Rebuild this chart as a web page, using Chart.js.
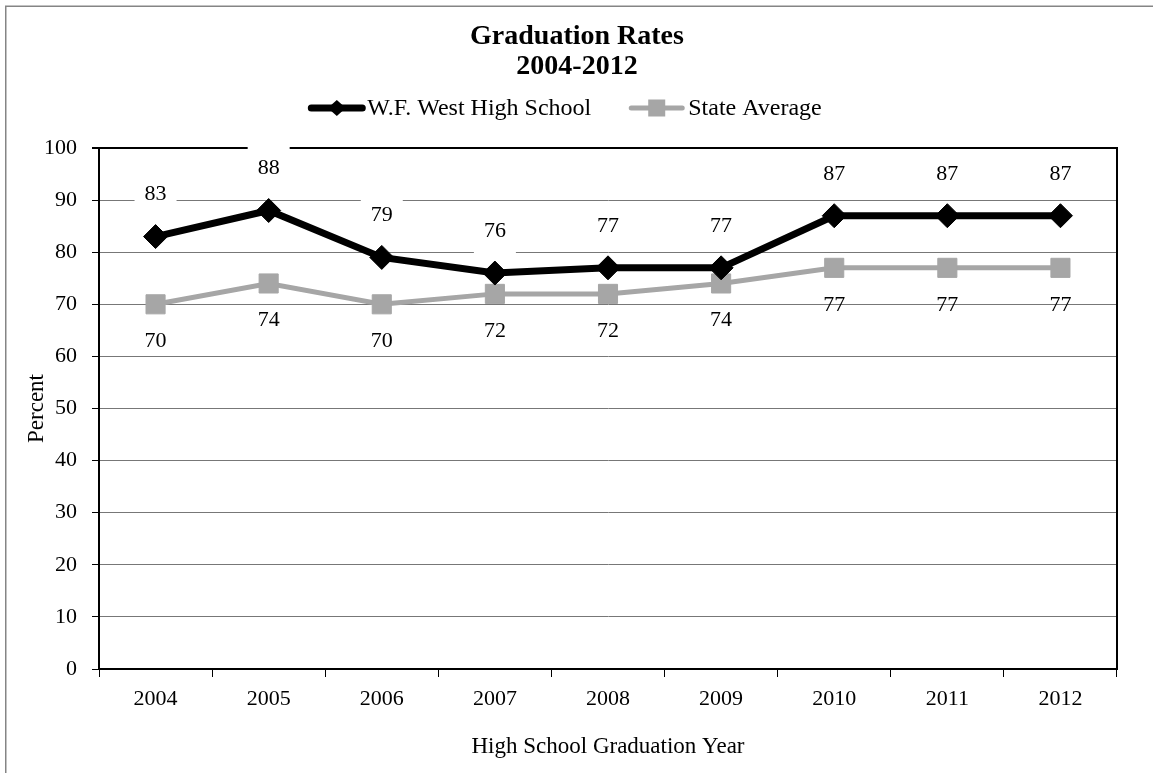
<!DOCTYPE html>
<html><head><meta charset="utf-8">
<script src="https://cdn.jsdelivr.net/npm/chart.js@4.4.1/dist/chart.umd.min.js"></script>
<style>html,body{margin:0;padding:0;background:#fff;}#wrap{width:1153px;height:773px;position:relative;}</style>
</head><body><div id="wrap"><canvas id="c"></canvas></div>
<script>
const years = ['2004','2005','2006','2007','2008','2009','2010','2011','2012'];
const wfWest = [83, 88, 79, 76, 77, 77, 87, 87, 87];
const stateAvg = [70, 74, 70, 72, 72, 74, 77, 77, 77];
const yTicks = [0, 10, 20, 30, 40, 50, 60, 70, 80, 90, 100];
const titleLines = ['Graduation Rates', '2004-2012'];
const seriesNames = ['W.F. West High School', 'State Average'];
const xTitle = 'High School Graduation Year';
const yTitle = 'Percent';

const SERIF = '"Liberation Serif", "Times New Roman", serif';
const BLACK = '#000000';
const GRAY = '#a6a6a6';

const decorPlugin = {
  id: 'decor',
  beforeDraw(chart) {
    const ctx = chart.ctx;
    ctx.save();
    ctx.fillStyle = '#fff';
    ctx.fillRect(0, 0, chart.width, chart.height);
    ctx.strokeStyle = '#858585';
    ctx.lineWidth = 1.5;
    ctx.beginPath();
    ctx.moveTo(5.75, chart.height);
    ctx.lineTo(5.75, 6.25);
    ctx.lineTo(chart.width, 6.25);
    ctx.stroke();
    ctx.restore();
  },
  beforeDatasetsDraw(chart) {
    const ctx = chart.ctx, a = chart.chartArea;
    ctx.save();
    ctx.strokeStyle = BLACK;
    ctx.lineWidth = 2;
    ctx.beginPath();
    ctx.moveTo(a.left, a.top);
    ctx.lineTo(a.right, a.top);
    ctx.lineTo(a.right, a.bottom);
    ctx.stroke();
    ctx.restore();
  },
  afterDatasetsDraw(chart) {
    const ctx = chart.ctx;
    ctx.save();
    ctx.font = '22px ' + SERIF;
    ctx.textAlign = 'center';
    ctx.textBaseline = 'middle';
    chart.getDatasetMeta(1).data.forEach((pt, i) => {
      ctx.fillStyle = BLACK;
      ctx.fillText(String(stateAvg[i]), pt.x, pt.y + 37);
    });
    chart.getDatasetMeta(0).data.forEach((pt, i) => {
      const t = String(wfWest[i]);
      const w = ctx.measureText(t).width + 20;
      const cy = pt.y - 42;
      ctx.fillStyle = '#fff';
      ctx.fillRect(pt.x - w / 2, cy - 22, w, 44);
      ctx.fillStyle = BLACK;
      ctx.fillText(t, pt.x, cy);
    });
    ctx.restore();
  },
  afterDraw(chart) {
    const ctx = chart.ctx;
    ctx.save();
    ctx.fillStyle = BLACK;
    ctx.textAlign = 'center';
    ctx.textBaseline = 'middle';
    ctx.font = 'bold 28px ' + SERIF;
    ctx.fillText(titleLines[0], 577, 37);
    ctx.fillText(titleLines[1], 577, 67);
    ctx.font = '24px ' + SERIF;
    ctx.textAlign = 'left';
    const ly = 108;
    const lineLen = 57;
    const w1 = ctx.measureText(seriesNames[0]).width;
    const w2 = ctx.measureText(seriesNames[1]).width;
    const total = lineLen + 2 + w1 + 37 + lineLen + 3 + w2;
    let x = 565 - total / 2;
    ctx.strokeStyle = BLACK;
    ctx.lineCap = 'round';
    ctx.lineWidth = 7;
    ctx.beginPath(); ctx.moveTo(x + 3, ly); ctx.lineTo(x + lineLen - 3, ly); ctx.stroke();
    const dx = x + lineLen / 2;
    ctx.fillStyle = BLACK;
    ctx.beginPath();
    ctx.moveTo(dx - 9, ly); ctx.lineTo(dx, ly - 8); ctx.lineTo(dx + 9, ly); ctx.lineTo(dx, ly + 8);
    ctx.closePath(); ctx.fill();
    ctx.fillText(seriesNames[0], x + lineLen + 2, ly + 1);
    x += lineLen + 2 + w1 + 37;
    ctx.strokeStyle = GRAY;
    ctx.lineWidth = 5;
    ctx.beginPath(); ctx.moveTo(x + 3, ly); ctx.lineTo(x + lineLen - 3, ly); ctx.stroke();
    const sx = x + lineLen / 2;
    ctx.fillStyle = GRAY;
    ctx.fillRect(sx - 8.5, ly - 8.5, 17, 17);
    ctx.fillStyle = BLACK;
    ctx.fillText(seriesNames[1], x + lineLen + 3, ly + 1);
    ctx.restore();
  }
};

new Chart(document.getElementById('c'), {
  type: 'line',
  data: {
    labels: years,
    datasets: [
      {
        label: seriesNames[0],
        data: wfWest,
        borderColor: BLACK,
        backgroundColor: BLACK,
        borderWidth: 7,
        pointStyle: 'rectRot',
        pointRadius: 12,
        pointBorderWidth: 1,
        pointBackgroundColor: BLACK,
        pointBorderColor: BLACK,
        tension: 0
      },
      {
        label: seriesNames[1],
        data: stateAvg,
        borderColor: GRAY,
        backgroundColor: GRAY,
        borderWidth: 5,
        pointStyle: 'rect',
        pointRadius: 13.5,
        pointBorderWidth: 1,
        pointBackgroundColor: GRAY,
        pointBorderColor: GRAY,
        tension: 0
      }
    ]
  },
  options: {
    responsive: true,
    maintainAspectRatio: false,
    animation: false,
    layout: { padding: { top: 148, left: 23, right: 36, bottom: 12 } },
    plugins: {
      legend: { display: false },
      title: { display: false },
      tooltip: { enabled: false }
    },
    scales: {
      x: {
        type: 'category',
        offset: true,
        grid: { offset: true, drawOnChartArea: false, drawTicks: true, tickLength: 8, tickColor: BLACK, lineWidth: 1 },
        border: { color: BLACK, width: 2 },
        ticks: { color: BLACK, font: { family: SERIF, size: 22 }, padding: 9, maxRotation: 0, autoSkip: false },
        title: { display: true, text: xTitle, color: BLACK, font: { family: SERIF, size: 23 }, padding: 0 },
        afterFit(scale) { scale.height = 92; }
      },
      y: {
        min: 0,
        max: 100,
        afterBuildTicks(scale) { scale.ticks = yTicks.map(v => ({ value: v })); },
        grid: {
          color: c => (c.tick && c.tick.value === 100) ? BLACK : '#777777',
          lineWidth: c => (c.tick && c.tick.value === 100) ? 2 : 1,
          tickColor: BLACK,
          tickLength: 7,
          drawTicks: true
        },
        border: { color: BLACK, width: 2 },
        ticks: { color: BLACK, font: { family: SERIF, size: 22 }, padding: 15 },
        title: { display: true, text: yTitle, color: BLACK, font: { family: SERIF, size: 23 }, padding: 0 },
        afterFit(scale) { scale.width = 76; }
      }
    }
  },
  plugins: [decorPlugin]
});
</script>
</body></html>
